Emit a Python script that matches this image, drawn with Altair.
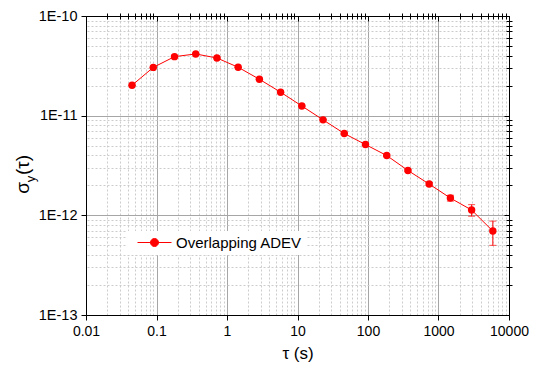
import altair as alt
import pandas as pd

# ---- data ----
tau = [0.045, 0.09, 0.18, 0.36, 0.72, 1.44, 2.88, 5.76, 11.52, 23.04, 46.08,
       92.16, 184.32, 368.64, 737.28, 1474.56, 2949.12, 5898.24]
adev = [2.02e-11, 3.05e-11, 3.91e-11, 4.16e-11, 3.79e-11, 3.06e-11, 2.32e-11,
        1.72e-11, 1.25e-11, 9.08e-12, 6.62e-12, 5.13e-12, 3.98e-12, 2.82e-12,
        2.06e-12, 1.49e-12, 1.13e-12, 6.95e-13]
err_lo = [2.01e-11, 3.04e-11, 3.90e-11, 4.15e-11, 3.78e-11, 3.05e-11, 2.31e-11,
          1.71e-11, 1.24e-11, 9.00e-12, 6.55e-12, 5.06e-12, 3.91e-12, 2.76e-12,
          1.99e-12, 1.39e-12, 0.98e-12, 5.00e-13]
err_hi = [2.03e-11, 3.06e-11, 3.92e-11, 4.17e-11, 3.80e-11, 3.07e-11, 2.33e-11,
          1.73e-11, 1.26e-11, 9.16e-12, 6.69e-12, 5.20e-12, 4.05e-12, 2.88e-12,
          2.13e-12, 1.59e-12, 1.28e-12, 8.75e-13]
series = ["Overlapping ADEV"] * len(tau)

x_major = [0.01, 0.1, 1, 10, 100, 1000, 10000]
y_major = [1e-13, 1e-12, 1e-11, 1e-10]
x_minor = [m * d for d in [0.01, 0.1, 1, 10, 100, 1000] for m in range(2, 10)]
y_minor = [m * d for d in [1e-13, 1e-12, 1e-11] for m in range(2, 10)]

df = pd.DataFrame({"tau": tau, "adev": adev, "lo": err_lo, "hi": err_hi,
                   "series": series})

W, H = 423, 299
RED = "#ff0000"
FONT = "Liberation Sans"

xs = alt.Scale(type="log", domain=[0.01, 10000])
ys = alt.Scale(type="log", domain=[1e-13, 1e-10])

common = dict(domainColor="black", tickColor="black", domainWidth=1,
              tickWidth=1, labelFont=FONT, titleFont=FONT)

ax_x_major = alt.Axis(values=x_major, tickSize=5, grid=True, gridColor="#a6a6a6",
                      gridWidth=1, format="~g", labelFontSize=14,
                      labelColor="black", labelPadding=4, labelFlush=False,
                      labelOverlap=False, title="τ (s)", titleFontSize=17,
                      titleFontWeight="normal", titleColor="black",
                      titlePadding=7, **common)
ax_x_minor = alt.Axis(values=x_minor, tickSize=3, grid=True, gridColor="#cccccc",
                      gridDash=[2, 2], gridWidth=1, labels=False, title=None,
                      domain=False, **common)
ax_x_top_major = alt.Axis(values=x_major, tickSize=5, grid=False, labels=False,
                          title=None, orient="bottom", offset=-H, **common)
ax_x_top_minor = alt.Axis(values=x_minor, tickSize=3, grid=False, labels=False,
                          title=None, orient="bottom", offset=-H, domain=False,
                          **common)

ax_y_major = alt.Axis(values=y_major, tickSize=5, grid=True, gridColor="#a6a6a6",
                      gridWidth=1,
                      labelExpr="'1E' + round(log(datum.value) / LN10)",
                      labelFontSize=14.5, labelColor="black", labelPadding=4,
                      labelFlush=False, labelOverlap=False, title=None, **common)
ax_y_minor = alt.Axis(values=y_minor, tickSize=3, grid=True, gridColor="#cccccc",
                      gridDash=[2, 2], gridWidth=1, labels=False, title=None,
                      domain=False, **common)
ax_y_right_major = alt.Axis(values=y_major, tickSize=5, grid=False, labels=False,
                            title=None, orient="left", offset=-W, **common)
ax_y_right_minor = alt.Axis(values=y_minor, tickSize=3, grid=False, labels=False,
                            title=None, orient="left", offset=-W, domain=False,
                            **common)

base = alt.Chart(df)

bars = base.mark_rule(color=RED, strokeWidth=1).encode(
    x=alt.X("tau:Q", scale=xs, axis=ax_x_major),
    y=alt.Y("lo:Q", scale=ys, axis=ax_y_major),
    y2="hi:Q",
)
caps_lo = base.mark_tick(color=RED, orient="horizontal", size=7, thickness=1).encode(
    x=alt.X("tau:Q", scale=xs, axis=ax_x_minor),
    y=alt.Y("lo:Q", scale=ys, axis=ax_y_minor),
)
caps_hi = base.mark_tick(color=RED, orient="horizontal", size=7, thickness=1).encode(
    x=alt.X("tau:Q", scale=xs, axis=ax_x_top_major),
    y=alt.Y("hi:Q", scale=ys, axis=ax_y_right_major),
)
line = base.mark_line(color=RED, strokeWidth=1).encode(
    x=alt.X("tau:Q", scale=xs, axis=ax_x_top_minor),
    y=alt.Y("adev:Q", scale=ys, axis=ax_y_right_minor),
)

# legend glyph: short line with a filled dot in its middle
legend_symbol = "M-0.25,0H8.25M3,0A1,1 0 1,1 5,0A1,1 0 1,1 3,0Z"
points = base.mark_point(filled=True, size=55, opacity=1).encode(
    x=alt.X("tau:Q", scale=xs, axis=None),
    y=alt.Y("adev:Q", scale=ys, axis=None),
    color=alt.Color("series:N", scale=alt.Scale(range=[RED]),
                    legend=alt.Legend(orient="none", legendX=41, legendY=215,
                                      title=None, fillColor="white",
                                      symbolType=legend_symbol, symbolSize=64,
                                      symbolStrokeColor=RED, symbolStrokeWidth=1,
                                      symbolFillColor=RED, symbolOpacity=1,
                                      labelFont=FONT, labelFontSize=15,
                                      labelColor="black", labelOffset=30,
                                      padding=4)),
)

tt = pd.DataFrame({"s": ["σ"], "y": ["y"], "p": ["(τ)"]})
t_sigma = alt.Chart(tt).mark_text(angle=270, fontSize=19, font=FONT, color="black").encode(
    x=alt.value(-63), y=alt.value(172), text="s:N")
t_sub = alt.Chart(tt).mark_text(angle=270, fontSize=13, font=FONT, color="black").encode(
    x=alt.value(-55), y=alt.value(163), text="y:N")
t_paren = alt.Chart(tt).mark_text(angle=270, fontSize=19, font=FONT, color="black").encode(
    x=alt.value(-63), y=alt.value(149), text="p:N")

chart = alt.layer(bars, caps_lo, caps_hi, line, points, t_sigma, t_sub, t_paren).resolve_axis(
    x="independent", y="independent"
).properties(
    width=W, height=H,
    autosize=alt.AutoSizeParams(type="none"),
    padding={"left": 78, "top": 8, "right": 20, "bottom": 48},
    background="white",
).configure_view(stroke=None)

chart.save("out.html", embed_options={"renderer": "svg", "actions": False})
